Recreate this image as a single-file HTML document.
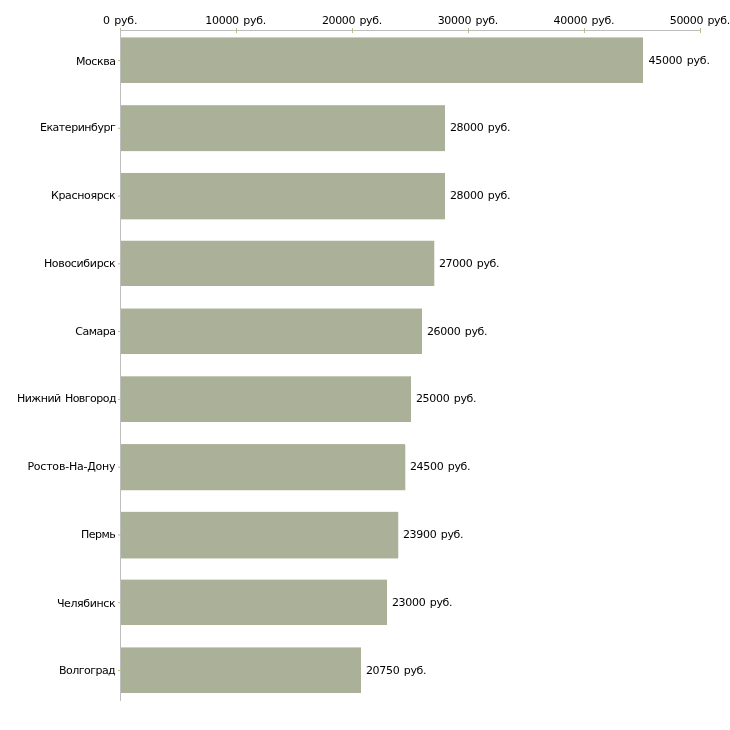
<!DOCTYPE html>
<html lang="ru"><head><meta charset="utf-8"><title>Зарплаты по городам</title>
<style>
html,body{margin:0;padding:0;background:#fff;}
body{width:730px;height:730px;position:relative;overflow:hidden;font-family:"DejaVu Sans", "Liberation Sans", sans-serif;font-size:11px;color:#000;line-height:14px;}
div{position:absolute;}
.b{left:121px;background:rgb(171,177,152);}
.e{left:121px;height:1px;}
.r{width:1px;}
.ax{background:rgb(190,190,190);}
.tx{top:28px;width:1px;height:5px;background:rgb(188,188,140);}
.ty{left:118px;width:5px;height:1px;}
.t{white-space:nowrap;word-spacing:1.2px;}
</style></head><body>

<div class="ax" style="left:120px;top:30px;width:581px;height:1px"></div>
<div class="tx" style="left:120px"></div>
<div class="tx" style="left:236px"></div>
<div class="tx" style="left:352px"></div>
<div class="tx" style="left:468px"></div>
<div class="tx" style="left:584px"></div>
<div class="tx" style="left:700px"></div>
<div class="ax" style="left:120px;top:30px;width:1px;height:671px"></div>
<div class="ty" style="top:60px;background:rgba(188,188,140,1.00)"></div>
<div class="ty" style="top:127px;background:rgba(188,188,140,0.22)"></div>
<div class="ty" style="top:128px;background:rgba(188,188,140,0.78)"></div>
<div class="ty" style="top:195px;background:rgba(188,188,140,0.44)"></div>
<div class="ty" style="top:196px;background:rgba(188,188,140,0.56)"></div>
<div class="ty" style="top:263px;background:rgba(188,188,140,0.67)"></div>
<div class="ty" style="top:264px;background:rgba(188,188,140,0.33)"></div>
<div class="ty" style="top:331px;background:rgba(188,188,140,0.89)"></div>
<div class="ty" style="top:332px;background:rgba(188,188,140,0.11)"></div>
<div class="ty" style="top:398px;background:rgba(188,188,140,0.11)"></div>
<div class="ty" style="top:399px;background:rgba(188,188,140,0.89)"></div>
<div class="ty" style="top:466px;background:rgba(188,188,140,0.33)"></div>
<div class="ty" style="top:467px;background:rgba(188,188,140,0.67)"></div>
<div class="ty" style="top:534px;background:rgba(188,188,140,0.56)"></div>
<div class="ty" style="top:535px;background:rgba(188,188,140,0.44)"></div>
<div class="ty" style="top:602px;background:rgba(188,188,140,0.78)"></div>
<div class="ty" style="top:603px;background:rgba(188,188,140,0.22)"></div>
<div class="ty" style="top:670px;background:rgba(188,188,140,1.00)"></div>
<div class="b" style="top:38px;width:522px;height:45px"></div>
<div class="e" style="top:37px;width:522px;background:rgba(171,177,152,0.59)"></div>
<div class="b" style="top:106px;width:324px;height:45px"></div>
<div class="e" style="top:105px;width:324px;background:rgba(171,177,152,0.81)"></div>
<div class="e" style="top:151px;width:324px;background:rgba(171,177,152,0.13)"></div>
<div class="b" style="top:173px;width:324px;height:46px"></div>
<div class="e" style="top:172px;width:324px;background:rgba(171,177,152,0.04)"></div>
<div class="e" style="top:219px;width:324px;background:rgba(171,177,152,0.35)"></div>
<div class="b" style="top:241px;width:313px;height:45px"></div>
<div class="e" style="top:240px;width:313px;background:rgba(171,177,152,0.26)"></div>
<div class="r" style="left:434px;top:241px;height:45px;background:rgba(171,177,152,0.30)"></div>
<div class="b" style="top:309px;width:301px;height:45px"></div>
<div class="e" style="top:308px;width:301px;background:rgba(171,177,152,0.48)"></div>
<div class="b" style="top:377px;width:290px;height:45px"></div>
<div class="e" style="top:376px;width:290px;background:rgba(171,177,152,0.70)"></div>
<div class="b" style="top:445px;width:284px;height:45px"></div>
<div class="e" style="top:444px;width:284px;background:rgba(171,177,152,0.93)"></div>
<div class="e" style="top:490px;width:284px;background:rgba(171,177,152,0.24)"></div>
<div class="r" style="left:405px;top:445px;height:45px;background:rgba(171,177,152,0.30)"></div>
<div class="b" style="top:512px;width:277px;height:46px"></div>
<div class="e" style="top:511px;width:277px;background:rgba(171,177,152,0.15)"></div>
<div class="e" style="top:558px;width:277px;background:rgba(171,177,152,0.46)"></div>
<div class="r" style="left:398px;top:512px;height:46px;background:rgba(171,177,152,0.26)"></div>
<div class="b" style="top:580px;width:266px;height:45px"></div>
<div class="e" style="top:579px;width:266px;background:rgba(171,177,152,0.37)"></div>
<div class="b" style="top:648px;width:240px;height:45px"></div>
<div class="e" style="top:647px;width:240px;background:rgba(171,177,152,0.59)"></div>
<div class="t" id="x0" style="left:103.04px;top:14px;letter-spacing:-0.214px">0 руб.</div>
<div class="t" id="x1" style="left:205.29px;top:14px;letter-spacing:-0.289px">10000 руб.</div>
<div class="t" id="x2" style="left:321.9px;top:14px;letter-spacing:-0.354px">20000 руб.</div>
<div class="t" id="x3" style="left:437.66px;top:14px;letter-spacing:-0.308px">30000 руб.</div>
<div class="t" id="x4" style="left:553.49px;top:14px;letter-spacing:-0.263px">40000 руб.</div>
<div class="t" id="x5" style="left:669.79px;top:14px;letter-spacing:-0.341px">50000 руб.</div>
<div class="t" id="y0" style="left:75.95px;top:55px;letter-spacing:-0.41px">Москва</div>
<div class="t" id="v0" style="left:648.46px;top:54px;letter-spacing:-0.22px">45000 руб.</div>
<div class="t" id="y1" style="left:39.91px;top:121px;letter-spacing:-0.456px">Екатеринбург</div>
<div class="t" id="v1" style="left:449.94px;top:121px;letter-spacing:-0.314px">28000 руб.</div>
<div class="t" id="y2" style="left:50.92px;top:189px;letter-spacing:-0.332px">Красноярск</div>
<div class="t" id="v2" style="left:449.94px;top:189px;letter-spacing:-0.314px">28000 руб.</div>
<div class="t" id="y3" style="left:43.88px;top:257px;letter-spacing:-0.321px">Новосибирск</div>
<div class="t" id="v3" style="left:438.94px;top:257px;letter-spacing:-0.314px">27000 руб.</div>
<div class="t" id="y4" style="left:75.32px;top:325px;letter-spacing:-0.486px">Самара</div>
<div class="t" id="v4" style="left:426.94px;top:325px;letter-spacing:-0.314px">26000 руб.</div>
<div class="t" id="y5" style="left:16.96px;top:392px;letter-spacing:-0.511px">Нижний Новгород</div>
<div class="t" id="v5" style="left:415.94px;top:392px;letter-spacing:-0.314px">25000 руб.</div>
<div class="t" id="y6" style="left:27.43px;top:460px;letter-spacing:-0.219px">Ростов-На-Дону</div>
<div class="t" id="v6" style="left:409.94px;top:460px;letter-spacing:-0.314px">24500 руб.</div>
<div class="t" id="y7" style="left:80.94px;top:528px;letter-spacing:-0.486px">Пермь</div>
<div class="t" id="v7" style="left:402.94px;top:528px;letter-spacing:-0.314px">23900 руб.</div>
<div class="t" id="y8" style="left:56.89px;top:597px;letter-spacing:-0.372px">Челябинск</div>
<div class="t" id="v8" style="left:391.94px;top:596px;letter-spacing:-0.314px">23000 руб.</div>
<div class="t" id="y9" style="left:58.96px;top:664px;letter-spacing:-0.519px">Волгоград</div>
<div class="t" id="v9" style="left:365.94px;top:664px;letter-spacing:-0.314px">20750 руб.</div>
</body></html>
